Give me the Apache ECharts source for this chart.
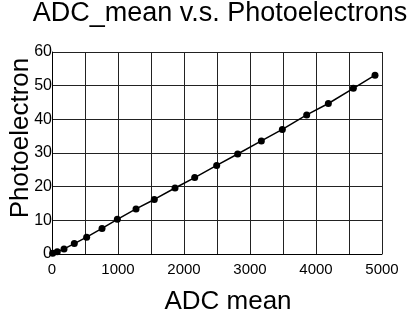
<!DOCTYPE html>
<html>
<head>
    <meta charset="UTF-8">
    <title>ADC_mean v.s. Photoelectrons</title>
    <script src="https://cdn.jsdelivr.net/npm/echarts@6/dist/echarts.min.js"></script>
    <style>
        html, body { margin: 0; padding: 0; background: #fff; }
        #main { width: 411px; height: 318px; }
    </style>
</head>
<body>
    <div id="main"></div>
    <script type="text/javascript">
        // values
        var adcMean = [10, 80, 182, 338, 525, 758, 990, 1273, 1550, 1864, 2162, 2495, 2813, 3172, 3490, 3859, 4187, 4566, 4894];
        var photoelectrons = [0.2, 0.7, 1.5, 3.1, 5.0, 7.6, 10.3, 13.4, 16.2, 19.6, 22.7, 26.3, 29.7, 33.6, 37.0, 41.3, 44.7, 49.2, 53.1];

        var font = 'Liberation Sans, Arial, Helvetica, sans-serif';

        var points = adcMean.map(function (x, i) { return [x, photoelectrons[i]]; });

        var myChart = echarts.init(document.getElementById('main'));

        var option = {
            animation: false,
            backgroundColor: '#fff',
            title: {
                text: 'ADC_mean v.s. Photoelectrons',
                left: 220,
                textAlign: 'center',
                top: 0,
                padding: [0, 0, 0, 0],
                textStyle: { fontFamily: font, fontSize: 27, fontWeight: 'normal', color: '#000' }
            },
            grid: { left: 52, right: 29, top: 52, bottom: 64, outerBoundsMode: 'none' },
            xAxis: {
                type: 'value',
                min: 0, max: 5000, interval: 500,
                name: 'ADC mean',
                nameLocation: 'middle',
                nameGap: 35,
                nameMoveOverlap: false,
                nameTextStyle: { fontFamily: font, fontSize: 26, color: '#000', padding: [0, 0, 0, 22] },
                axisLine: { lineStyle: { color: '#000', width: 1 } },
                axisTick: { show: false },
                axisLabel: {
                    fontFamily: font, fontSize: 15, color: '#000', margin: 8,
                    formatter: function (v) { return v % 1000 === 0 ? String(v) : ''; }
                },
                splitLine: { lineStyle: { color: '#222', width: 1 } }
            },
            yAxis: {
                type: 'value',
                min: 0, max: 60, interval: 10,
                name: 'Photoelectron',
                nameLocation: 'middle',
                nameRotate: 90,
                nameGap: 18,
                nameMoveOverlap: false,
                nameTextStyle: { fontFamily: font, fontSize: 26, color: '#000', padding: [0, 0, 0, 30] },
                axisLine: { lineStyle: { color: '#000', width: 1 } },
                axisTick: { show: false },
                axisLabel: { fontFamily: font, fontSize: 16, color: '#000', margin: 0 },
                splitLine: { lineStyle: { color: '#222', width: 1 } }
            },
            series: [
                {
                    name: 'data',
                    type: 'line',
                    data: points,
                    symbol: 'circle',
                    symbolSize: 7,
                    itemStyle: { color: '#000' },
                    lineStyle: { color: '#000', width: 1.5 },
                    z: 3
                }
            ]
        };

        myChart.setOption(option);
    </script>
</body>
</html>
